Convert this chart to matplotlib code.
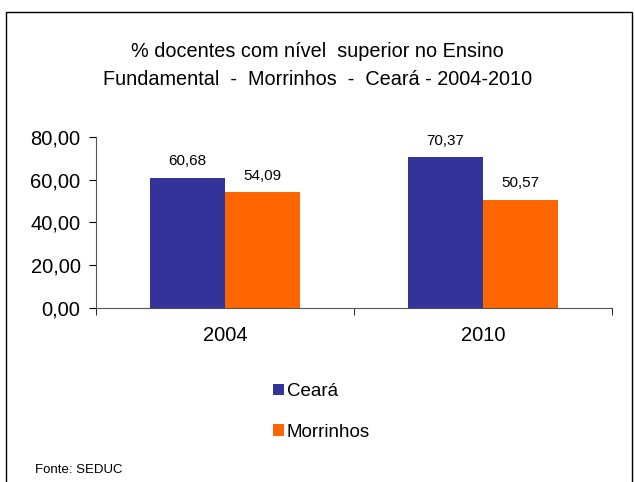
import numpy as np
import matplotlib.pyplot as plt
from matplotlib.patches import Rectangle

plt.rcParams['font.family'] = ['Liberation Sans', 'DejaVu Sans']

anos = ['2004', '2010']
ceara = [60.68, 70.37]
morrinhos = [54.09, 50.57]
rotulos_ceara = ['60,68', '70,37']
rotulos_morrinhos = ['54,09', '50,57']
yticks = [0, 20, 40, 60, 80]
ylabels = ['0,00', '20,00', '40,00', '60,00', '80,00']

fig = plt.figure(figsize=(6.35, 4.82), dpi=100)
ax = fig.add_axes([0.151, 0.361, 0.813, 0.355])

x = np.arange(len(anos))
w = 0.29
b1 = ax.bar(x - w/2, ceara, w, color='#333399', label='Ceará')
b2 = ax.bar(x + w/2, morrinhos, w, color='#FF6600', label='Morrinhos')

for bar, t in zip(b1, rotulos_ceara):
    ax.annotate(t, (bar.get_x() + bar.get_width()/2, bar.get_height()),
                xytext=(0, 7), textcoords='offset points', ha='center', va='bottom', fontsize=11)
for bar, t in zip(b2, rotulos_morrinhos):
    ax.annotate(t, (bar.get_x() + bar.get_width()/2, bar.get_height()),
                xytext=(0, 7), textcoords='offset points', ha='center', va='bottom', fontsize=11)

ax.set_xlim(-0.5, 1.5)
ax.set_ylim(0, 80)
ax.set_yticks(yticks)
ax.set_yticklabels(ylabels, fontsize=14.5)
ax.set_xticks(x)
ax.set_xticklabels(anos, fontsize=14.5)
ax.tick_params(axis='x', length=0, pad=13)
ax.set_xticks([-0.5, 0.5, 1.5], minor=True)
ax.tick_params(axis='x', which='minor', length=5, direction='out')
ax.tick_params(axis='y', length=5, direction='out', pad=6)
for s in ['top', 'right']:
    ax.spines[s].set_visible(False)
ax.spines['left'].set_color('#555555')
ax.spines['bottom'].set_color('#555555')

fig.text(0.5, 0.893, '% docentes com nível  superior no Ensino', ha='center', va='center', fontsize=14.3)
fig.text(0.5, 0.835, 'Fundamental  -  Morrinhos  -  Ceará - 2004-2010', ha='center', va='center', fontsize=14.3)

fig.legend(handles=[b1, b2], loc='upper left', bbox_to_anchor=(0.404, 0.24),
           frameon=False, fontsize=13.5, handlelength=0.55, handleheight=0.55,
           handletextpad=0.15, labelspacing=1.25)

fig.text(0.055, 0.018, 'Fonte: SEDUC', fontsize=9.5)

fig.patches.append(Rectangle((0.009, -0.05), 0.986, 1.025, transform=fig.transFigure,
                             fill=False, edgecolor='black', linewidth=1))

fig.savefig('out.png', dpi=100)
